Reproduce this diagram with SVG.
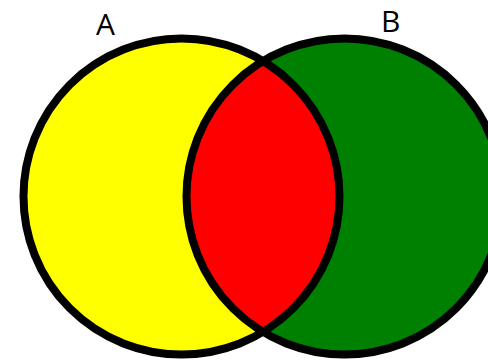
<svg xmlns="http://www.w3.org/2000/svg" width="488" height="363" viewBox="0 0 488 363">
<style>
.ring{fill:none;stroke:#000;stroke-width:8}
.lbl{font-family:"Open Sans","Liberation Sans",sans-serif;font-size:30px;fill:#000}
</style>
<defs>
<clipPath id="clipA"><circle cx="181.5" cy="196.5" r="158"/></clipPath>
</defs>
<rect width="488" height="363" fill="#fff"/>
<g id="setA">
<circle cx="181.5" cy="196.5" r="158" fill="#ffff00"/>
</g>
<g id="setB">
<circle cx="344.5" cy="196.5" r="158" fill="#008000"/>
</g>
<g id="intersection">
<circle cx="344.5" cy="196.5" r="158" fill="#ff0000" clip-path="url(#clipA)"/>
</g>
<g id="outlines">
<circle class="ring" cx="181.5" cy="196.5" r="158"/>
<circle class="ring" cx="344.5" cy="196.5" r="158"/>
</g>
<g id="labelA"><text class="lbl" x="96" y="35">A</text></g>
<g id="labelB"><text class="lbl" x="381" y="32">B</text></g>
</svg>
